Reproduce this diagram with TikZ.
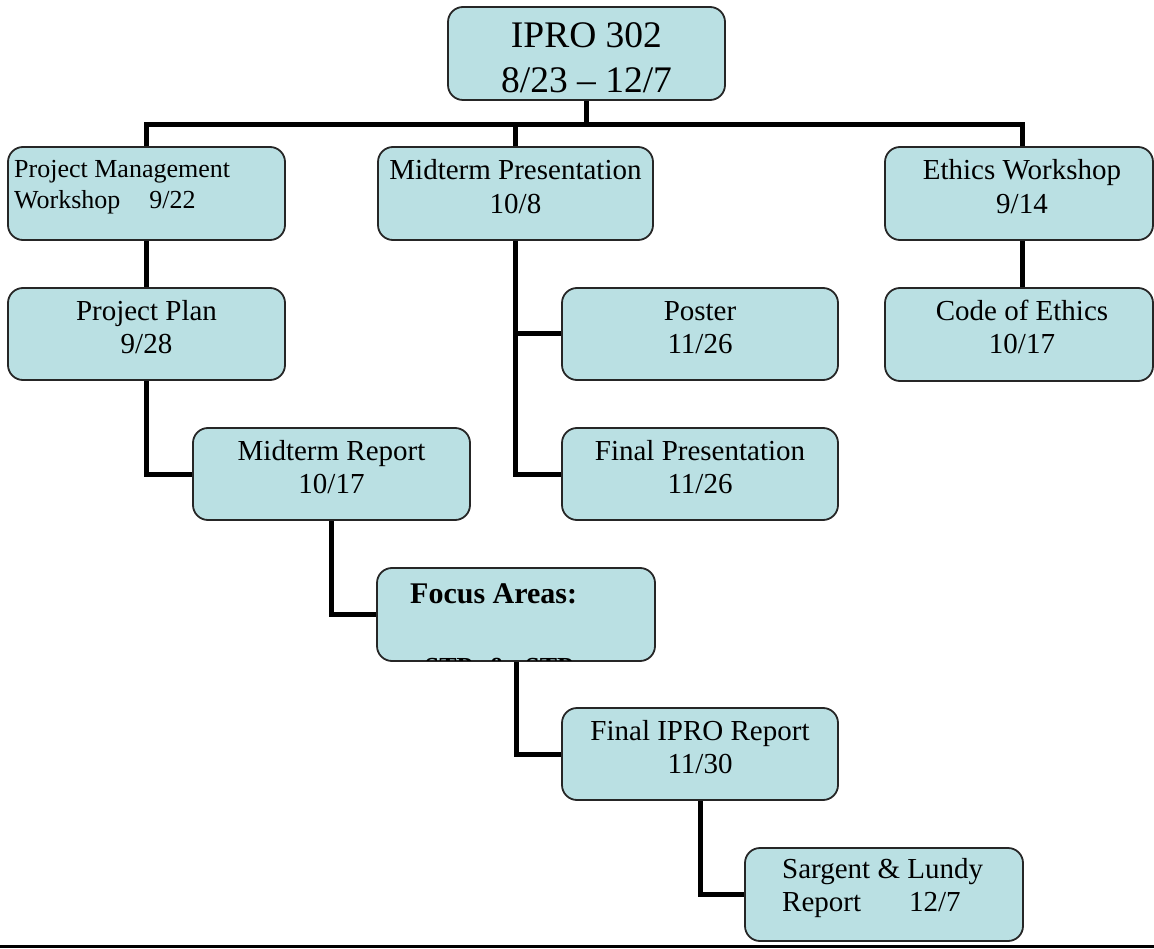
\documentclass[tikz,border=0pt]{standalone}
\usepackage{fontspec}
\setmainfont{Liberation Serif}
\pgfdeclarelayer{bg}
\pgfsetlayers{bg,main}
\definecolor{boxfill}{RGB}{186,224,227}
\newcommand{\bodyfont}{\fontsize{29}{33.5}\selectfont}
\newcommand{\smallbodyfont}{\fontsize{26}{31}\selectfont}
\newcommand{\titlefont}{\fontsize{37.5}{45}\selectfont}
\tikzset{
  x=1pt, y=-1pt,
  box/.style={draw=black!85, line width=1.8pt, fill=boxfill, rounded corners=15pt,
    inner sep=0pt, outer sep=0pt, minimum width=277pt, minimum height=93pt},
  lbl/.style={anchor=north, align=center, inner sep=0pt, font=\bodyfont},
  lbll/.style={anchor=north west, align=left, inner sep=0pt, font=\bodyfont},
  conn/.style={line width=5pt, draw=black, line join=miter},
  rule/.style={line width=2.5pt, draw=black}
}
\begin{document}
\begin{tikzpicture}
\useasboundingbox (0,0) rectangle (1154,949);

% boxes
\node[box] (top) at (586.5,53.5) {};
\node[box] (pm) at (146.5,193.5) {};
\node[box, minimum width=275pt] (mp) at (515.5,193.5) {};
\node[box, minimum width=268pt] (eth) at (1019,193.5) {};
\node[box, minimum height=92pt] (pp) at (146.5,334) {};
\node[box, minimum width=276pt, minimum height=92pt] (poster) at (700,334) {};
\node[box, minimum width=268pt] (coe) at (1019,334.5) {};
\node[box, minimum height=92pt] (mr) at (331.5,474) {};
\node[box, minimum width=276pt, minimum height=92pt] (fp) at (700,474) {};
\node[box, minimum width=278pt] (fa) at (516,614.5) {};
\node[box, minimum width=276pt, minimum height=92pt] (fir) at (700,754) {};
\node[box, minimum width=278pt] (sl) at (884,894.5) {};

% box texts
\node[lbl, font=\titlefont] (top-t) at ([yshift=-8.5pt]top.north) {\strut IPRO 302\\8/23 \textendash{} 12/7};
\node[lbll, font=\smallbodyfont] (pm-t) at (14,155.3) {\strut Project Management\\Workshop\hspace{29pt}9/22};
\node[lbl] (mp-t) at ([yshift=-9pt]mp.north) {\strut Midterm Presentation\\10/8};
\node[lbl] (eth-t) at ([xshift=3pt,yshift=-9pt]eth.north) {\strut Ethics Workshop\\9/14};
\node[lbl] (pp-t) at ([yshift=-8.5pt]pp.north) {\strut Project Plan\\9/28};
\node[lbl] (poster-t) at ([yshift=-8.5pt]poster.north) {\strut Poster\\11/26};
\node[lbl] (coe-t) at ([xshift=3pt,yshift=-8.5pt]coe.north) {\strut Code of Ethics\\10/17};
\node[lbl] (mr-t) at ([yshift=-8.5pt]mr.north) {\strut Midterm Report\\10/17};
\node[lbl] (fp-t) at ([yshift=-8.5pt]fp.north) {\strut Final Presentation\\11/26};
\node[lbl] (fir-t) at ([yshift=-8.5pt]fir.north) {\strut Final IPRO Report\\11/30};
\node[lbll] (sl-t) at (782,854.5) {\strut Sargent \& Lundy\\Report\hspace{48pt}12/7};

% focus areas box: heading and a second line cut off by the box edge
\node[anchor=base west, inner sep=0pt, font=\fontsize{30}{36}\selectfont\bfseries] (fa-t) at (410,603) {Focus Areas:};
\begin{scope}
  \clip[rounded corners=14pt] ([shift={(1pt,-1pt)}]fa.north west) rectangle ([shift={(-1pt,1pt)}]fa.south east);
  \node[anchor=base, inner sep=0pt, font=\fontsize{26}{31}\selectfont\bfseries] (fa-cut) at (499,675)
    {STP\hspace{0.6em}\&\hspace{0.6em}STP};
\end{scope}

% connectors
\coordinate (bus) at (586.5,124.5);
\begin{pgfonlayer}{bg}
  \draw[conn] (top.south) -- (top.south |- bus);
  \draw[conn] (pm.north) |- ([xshift=3.5pt]eth.north |- bus) -- ([xshift=3.5pt]eth.north);
  \draw[conn] (mp.north) -- (mp.north |- bus);
  \draw[conn] (pm.south) -- (pp.north);
  \draw[conn] ([xshift=3.5pt]eth.south) -- ([xshift=3.5pt]coe.north);
  \draw[conn] (mp.south) |- (poster.west);
  \draw[conn] (mp.south) |- (fp.west);
  \draw[conn] (pp.south) |- (mr.west);
  \draw[conn] (mr.south) |- (fa.west);
  \draw[conn] (fa.south) |- (fir.west);
  \draw[conn] (fir.south) |- (sl.west);
\end{pgfonlayer}

% page rule at the foot
\coordinate (ruleL) at (0,946.5);
\coordinate (ruleR) at (1154,946.5);
\draw[rule] (ruleL) -- (ruleR);
\end{tikzpicture}
\end{document}
